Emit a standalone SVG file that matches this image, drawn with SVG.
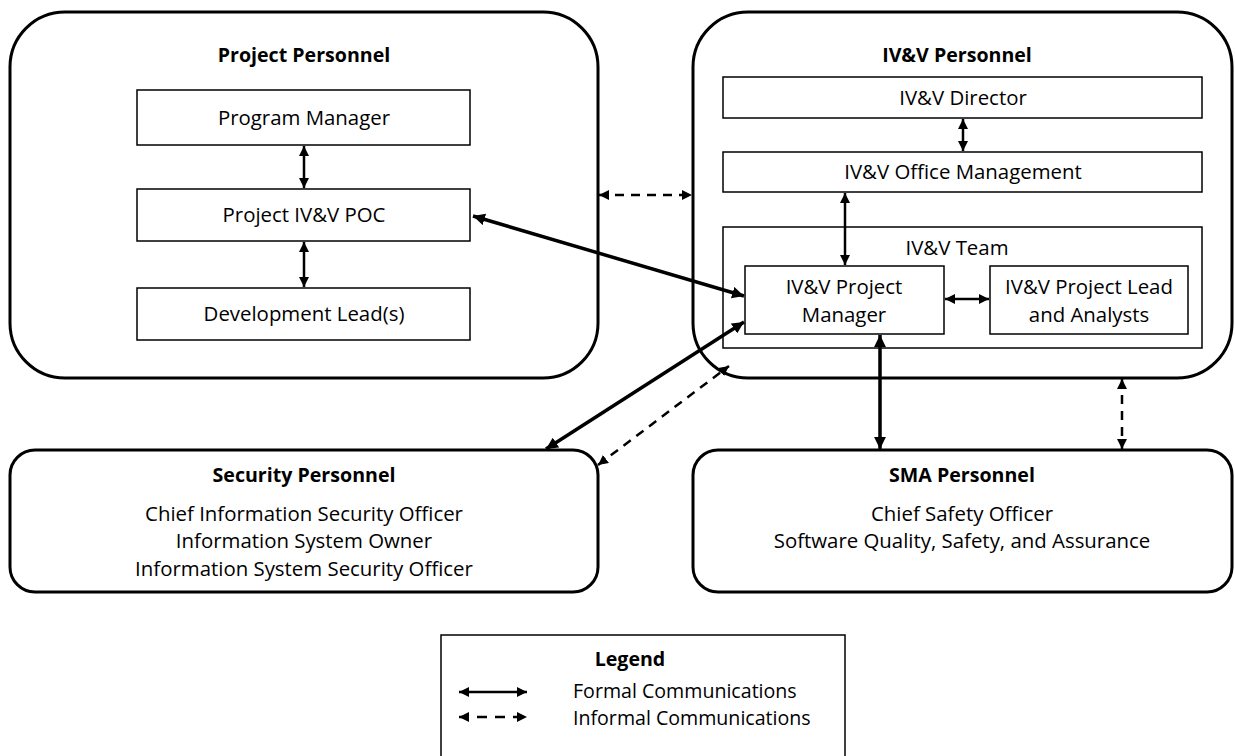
<svg xmlns="http://www.w3.org/2000/svg" width="1235" height="756" viewBox="0 0 1235 756">
<style>
text{font-family:"Open Sans","Liberation Sans",sans-serif;font-size:20.4px;fill:#000;text-anchor:middle}
.b{font-weight:bold;font-size:19.6px}
.lg{font-size:19.6px;text-anchor:start}
.big{fill:#fff;stroke:#000;stroke-width:3}
.box{fill:#fff;stroke:#000;stroke-width:1.5}
.f{stroke:#000;stroke-width:2.5;fill:none;marker-start:url(#ah);marker-end:url(#ah)}
.t{stroke:#000;stroke-width:3.5;fill:none;marker-start:url(#ah2);marker-end:url(#ah2)}
.d{stroke:#000;stroke-width:2.5;fill:none;stroke-dasharray:9 7;marker-start:url(#ah);marker-end:url(#ah)}
</style>
<defs>
<marker id="ah" viewBox="0 0 10 10" refX="10" refY="5" markerWidth="4" markerHeight="4" orient="auto-start-reverse" markerUnits="strokeWidth"><path d="M0,0L10,5L0,10z" fill="#000"/></marker>
<marker id="ah2" viewBox="0 0 10 10" refX="10" refY="5" markerWidth="3.4" markerHeight="3.4" orient="auto-start-reverse" markerUnits="strokeWidth"><path d="M0,0L10,5L0,10z" fill="#000"/></marker>
</defs>
<rect width="1235" height="756" fill="#fff"/>
<g id="project-personnel">
<rect class="big" x="10" y="12" width="588" height="366" rx="55"/>
<text class="b" x="304" y="62">Project Personnel</text>
</g>
<g id="program-manager"><rect class="box" x="137" y="90" width="333" height="55"/><text x="304" y="125">Program Manager</text></g>
<g id="project-poc"><rect class="box" x="137" y="189" width="333" height="52"/><text x="304" y="222">Project IV&amp;V POC</text></g>
<g id="dev-lead"><rect class="box" x="137" y="288" width="333" height="52"/><text x="304" y="321">Development Lead(s)</text></g>
<g id="ivv-personnel">
<rect class="big" x="693" y="12" width="539" height="366" rx="55"/>
<text class="b" x="957" y="62">IV&amp;V Personnel</text>
</g>
<g id="ivv-director"><rect class="box" x="723" y="77" width="479" height="41"/><text x="963" y="105">IV&amp;V Director</text></g>
<g id="ivv-office"><rect class="box" x="723" y="152" width="479" height="40"/><text x="963" y="179">IV&amp;V Office Management</text></g>
<g id="ivv-team"><rect class="box" x="723" y="227" width="479" height="121"/><text x="957" y="255">IV&amp;V Team</text></g>
<g id="ivv-pm"><rect class="box" x="745" y="266" width="199" height="68"/><text x="844" y="294">IV&amp;V Project</text><text x="844" y="322">Manager</text></g>
<g id="ivv-lead"><rect class="box" x="990" y="266" width="198" height="68"/><text x="1089" y="294">IV&amp;V Project Lead</text><text x="1089" y="322">and Analysts</text></g>
<g id="security">
<rect class="big" x="10" y="450" width="588" height="142" rx="25"/>
<text class="b" x="304" y="482">Security Personnel</text>
<text x="304" y="521">Chief Information Security Officer</text>
<text x="304" y="548">Information System Owner</text>
<text x="304" y="576">Information System Security Officer</text>
</g>
<g id="sma">
<rect class="big" x="693" y="450" width="539" height="142" rx="25"/>
<text class="b" x="962" y="482">SMA Personnel</text>
<text x="962" y="521">Chief Safety Officer</text>
<text x="962" y="548">Software Quality, Safety, and Assurance</text>
</g>
<g id="connectors">
<line class="f" x1="304" y1="146" x2="304" y2="188"/>
<line class="f" x1="304" y1="242" x2="304" y2="287"/>
<line class="f" x1="963" y1="119" x2="963" y2="151"/>
<line class="f" x1="845" y1="193" x2="845" y2="265"/>
<line class="f" x1="945" y1="299" x2="989" y2="299"/>
<line class="d" x1="599" y1="195" x2="692" y2="195"/>
<line class="t" x1="473" y1="216" x2="744" y2="296"/>
<line class="t" x1="546" y1="449" x2="744" y2="322"/>
<line class="d" x1="598" y1="465" x2="729" y2="366"/>
<line class="t" x1="880" y1="335" x2="880" y2="449"/>
<line class="d" x1="1122" y1="379" x2="1122" y2="449"/>
</g>
<g id="legend">
<rect class="box" x="441" y="635" width="404" height="130"/>
<text class="b" x="630" y="666">Legend</text>
<line class="f" x1="459" y1="692" x2="527" y2="692"/>
<line class="f" x1="459" y1="717" x2="527" y2="717" stroke-dasharray="10 8"/>
<text class="lg" x="573" y="698">Formal Communications</text>
<text class="lg" x="573" y="725">Informal Communications</text>
</g>
</svg>
